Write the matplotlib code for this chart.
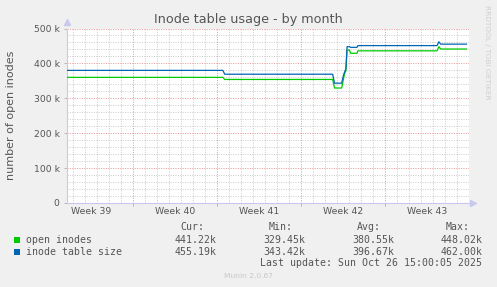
import matplotlib
matplotlib.use("Agg")
import matplotlib.pyplot as plt
from matplotlib.patches import Rectangle

# ---- data (x in days since Monday of week 39) ----
open_days = [1.42, 14.45, 14.6, 23.6, 23.75, 24.35, 24.5, 24.6, 24.7, 24.8, 25.0, 25.1,
             25.62, 25.7, 32.3, 32.45, 32.6, 34.75]
open_vals = [360000, 360000, 354000, 354000, 329450, 329450, 355000, 372000, 378000, 438000,
             438000, 429000, 429000, 436000, 436000, 448020, 441220, 441220]
size_days = [1.42, 14.45, 14.6, 23.6, 23.75, 24.35, 24.5, 24.6, 24.7, 24.8, 25.0, 25.1,
             25.62, 25.7, 32.3, 32.45, 32.6, 34.75]
size_vals = [380000, 380000, 369000, 369000, 343420, 343420, 366000, 376000, 384000, 448000,
             448000, 446000, 446000, 451000, 451000, 462000, 455190, 455190]

week_labels = ["Week 39", "Week 40", "Week 41", "Week 42", "Week 43"]
week_centers = [3.5, 10.5, 17.5, 24.5, 31.5]
week_bounds = [7, 14, 21, 28]
y_ticks = [0, 100000, 200000, 300000, 400000, 500000]
y_tick_labels = ["0", "100 k", "200 k", "300 k", "400 k", "500 k"]

legend_names = ["open inodes", "inode table size"]
legend_colors = ["#00CC00", "#0066B3"]
cur_vals = ["441.22k", "455.19k"]
min_vals = ["329.45k", "343.42k"]
avg_vals = ["380.55k", "396.67k"]
max_vals = ["448.02k", "462.00k"]

W, H = 497, 287
fig = plt.figure(figsize=(W / 100, H / 100), dpi=100)
fig.patch.set_facecolor("#F0F0F0")

x0, x1 = 1.417, 34.92
left_px, right_px, top_px, bot_px = 66.5, 468.5, 28.5, 203
ax = fig.add_axes([left_px / W, 1 - bot_px / H, (right_px - left_px) / W, (bot_px - top_px) / H])
ax.set_facecolor("white")
ax.set_xlim(x0, x1)
ax.set_ylim(0, 500000)

# grid
minor_c = "#cdcdcd"
major_c = "#e89a9a"
dots = (0, (1, 1.4))
d = 2
while d < x1:
    if d not in week_bounds:
        ax.axvline(d, color=minor_c, lw=0.72, ls=dots, zorder=1)
    d += 1
for yv in range(20000, 500001, 20000):
    if yv % 100000 != 0:
        ax.axhline(yv, color=minor_c, lw=0.72, ls=dots, zorder=1)
for wb in week_bounds:
    ax.axvline(wb, color=major_c, lw=0.72, ls=dots, zorder=1.5)
for yv in y_ticks[1:]:
    ax.axhline(yv, color=major_c, lw=0.72, ls=dots, zorder=1.5)

ax.plot(open_days, open_vals, color=legend_colors[0], lw=0.9, zorder=3)
ax.plot(size_days, size_vals, color=legend_colors[1], lw=0.9, zorder=3)

for s in ["top", "right"]:
    ax.spines[s].set_visible(False)
for s in ["left", "bottom"]:
    ax.spines[s].set_color("#c8c8f0")
    ax.spines[s].set_linewidth(0.8)

text_c = "#555555"
ax.set_xticks(week_centers)
ax.set_xticklabels(week_labels, fontsize=6.7, color=text_c)
ax.set_xticks(week_bounds, minor=True)
ax.set_yticks(y_ticks)
ax.set_yticklabels(y_tick_labels, fontsize=6.7, color=text_c)
ax.tick_params(axis="x", which="major", length=0, pad=3)
ax.tick_params(axis="x", which="minor", length=2, width=0.7, color=major_c)
ax.tick_params(axis="y", which="major", length=2, width=0.7, color="#b8b8b8", pad=3)

# axis arrows
ax.plot([0], [1.035], marker="^", ms=4, color="#c8c8f0", transform=ax.transAxes, clip_on=False)
ax.plot([1.01], [0], marker=">", ms=4, color="#c8c8f0", transform=ax.transAxes, clip_on=False)

def fx(px):
    return px / W

def fy(py):
    return 1 - py / H

fig.text(fx(248), fy(19), "Inode table usage - by month", fontsize=9.2, color=text_c,
         ha="center", va="center")
fig.text(fx(11), fy(115), "number of open inodes", fontsize=8, color=text_c,
         rotation=90, ha="center", va="center")
fig.text(fx(486.5), fy(5), "RRDTOOL / TOBI OETIKER", fontsize=5.3, color="#cfcfcf",
         rotation=270, ha="center", va="top")

mono = "DejaVu Sans Mono"
ms = 7.1
hdr_right = [204, 293, 381, 470]
val_right = [216.7, 305.7, 394, 482.3]
for hdr, xr in zip(["Cur:", "Min:", "Avg:", "Max:"], hdr_right):
    fig.text(fx(xr), fy(227.3), hdr, family=mono, fontsize=ms, color=text_c, ha="right", va="center")
rows_y = [240, 251.7]
for i in range(2):
    y = rows_y[i]
    fig.patches.append(Rectangle((fx(14), fy(y + 3)), 6 / W, 6 / H, transform=fig.transFigure,
                                 facecolor=legend_colors[i], edgecolor="none"))
    fig.text(fx(26.3), fy(y), legend_names[i], family=mono, fontsize=ms, color=text_c, ha="left", va="center")
    for col, xr in zip([cur_vals, min_vals, avg_vals, max_vals], val_right):
        fig.text(fx(xr), fy(y), col[i], family=mono, fontsize=ms, color=text_c, ha="right", va="center")
fig.text(fx(482.3), fy(263.3), "Last update: Sun Oct 26 15:00:05 2025", family=mono, fontsize=ms,
         color=text_c, ha="right", va="center")
fig.text(fx(248), fy(276), "Munin 2.0.67", fontsize=5.4, color="#c8c8c8", ha="center", va="center")

fig.savefig("out.png", dpi=100, facecolor=fig.get_facecolor())
